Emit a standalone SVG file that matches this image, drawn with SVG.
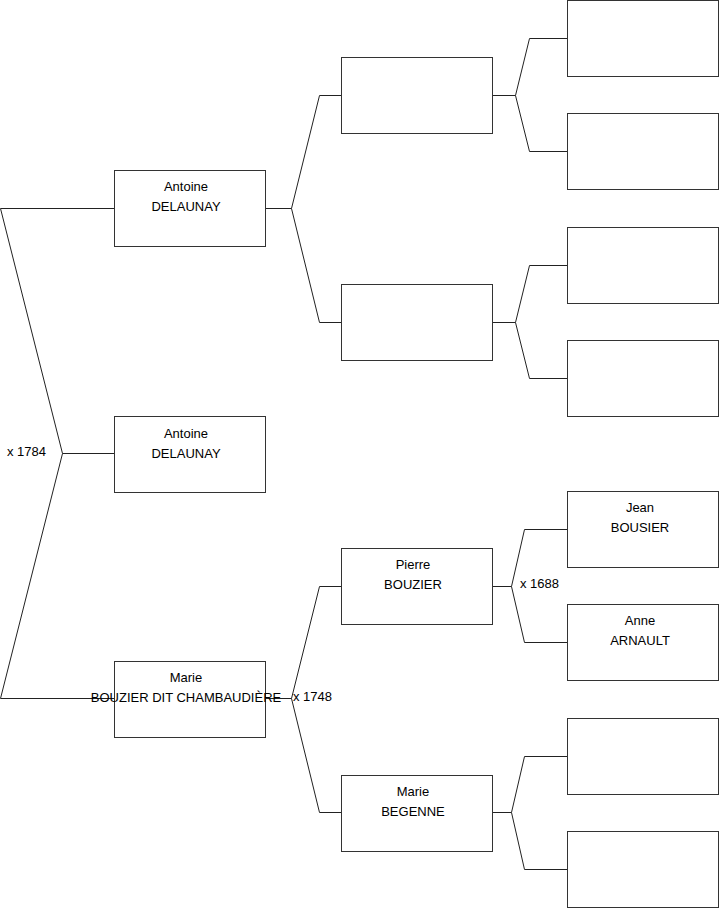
<svg xmlns="http://www.w3.org/2000/svg" width="719" height="908" viewBox="0 0 719 908">
<style>
.box{fill:#fff;stroke:#333;stroke-width:1}
.ln{fill:none;stroke:#222;stroke-width:1}
text{font-family:"Liberation Sans",Arial,sans-serif;font-size:13px;fill:#000}
.c{text-anchor:middle}
</style>
<rect width="719" height="908" fill="#fff"/>
<g id="connectors">
<path class="ln" d="M0.5,208.5H114.5M0.5,208.5L62.5,453.5L0.5,698.5H114.5M62.5,453.5H114.5"/>
<path class="ln" d="M265.5,208.5H291.5L319.5,95.5H341.5M291.5,208.5L319.5,322.5H341.5"/>
<path class="ln" d="M265.5,698.5H291.5L319.5,586.5H341.5M291.5,698.5L319.5,812.5H341.5"/>
<path class="ln" d="M492.5,95.5H515.5L529.5,38.5H567.5M515.5,95.5L529.5,151.5H567.5"/>
<path class="ln" d="M492.5,322.5H515.5L529.5,265.5H567.5M515.5,322.5L529.5,378.5H567.5"/>
<path class="ln" d="M492.5,586.5H511.5L524.5,529.5H567.5M511.5,586.5L524.5,642.5H567.5"/>
<path class="ln" d="M492.5,812.5H511.5L524.5,756.5H567.5M511.5,812.5L524.5,869.5H567.5"/>
<text x="7" y="456">x 1784</text>
<text x="293" y="701">x 1748</text>
<text x="520" y="588">x 1688</text>
</g>
<g id="n-antoine-father"><rect class="box" x="114.5" y="170.5" width="151" height="76"/><text class="c" x="186" y="191">Antoine</text><text class="c" x="186" y="211">DELAUNAY</text></g>
<g id="n-antoine"><rect class="box" x="114.5" y="416.5" width="151" height="76"/><text class="c" x="186" y="438">Antoine</text><text class="c" x="186" y="458">DELAUNAY</text></g>
<g id="n-marie-mother"><rect class="box" x="114.5" y="661.5" width="151" height="76"/><text class="c" x="186" y="682">Marie</text><text class="c" x="186" y="702">BOUZIER DIT CHAMBAUDIÈRE</text></g>
<g id="n-g2-1"><rect class="box" x="341.5" y="57.5" width="151" height="76"/></g>
<g id="n-g2-2"><rect class="box" x="341.5" y="284.5" width="151" height="76"/></g>
<g id="n-pierre"><rect class="box" x="341.5" y="548.5" width="151" height="76"/><text class="c" x="413" y="569">Pierre</text><text class="c" x="413" y="589">BOUZIER</text></g>
<g id="n-marie-begenne"><rect class="box" x="341.5" y="775.5" width="151" height="76"/><text class="c" x="413" y="796">Marie</text><text class="c" x="413" y="816">BEGENNE</text></g>
<g id="n-g3-1"><rect class="box" x="567.5" y="0.5" width="151" height="76"/></g>
<g id="n-g3-2"><rect class="box" x="567.5" y="113.5" width="151" height="76"/></g>
<g id="n-g3-3"><rect class="box" x="567.5" y="227.5" width="151" height="76"/></g>
<g id="n-g3-4"><rect class="box" x="567.5" y="340.5" width="151" height="76"/></g>
<g id="n-jean"><rect class="box" x="567.5" y="491.5" width="151" height="76"/><text class="c" x="640" y="512">Jean</text><text class="c" x="640" y="532">BOUSIER</text></g>
<g id="n-anne"><rect class="box" x="567.5" y="604.5" width="151" height="76"/><text class="c" x="640" y="625">Anne</text><text class="c" x="640" y="645">ARNAULT</text></g>
<g id="n-g3-7"><rect class="box" x="567.5" y="718.5" width="151" height="76"/></g>
<g id="n-g3-8"><rect class="box" x="567.5" y="831.5" width="151" height="76"/></g>
</svg>
